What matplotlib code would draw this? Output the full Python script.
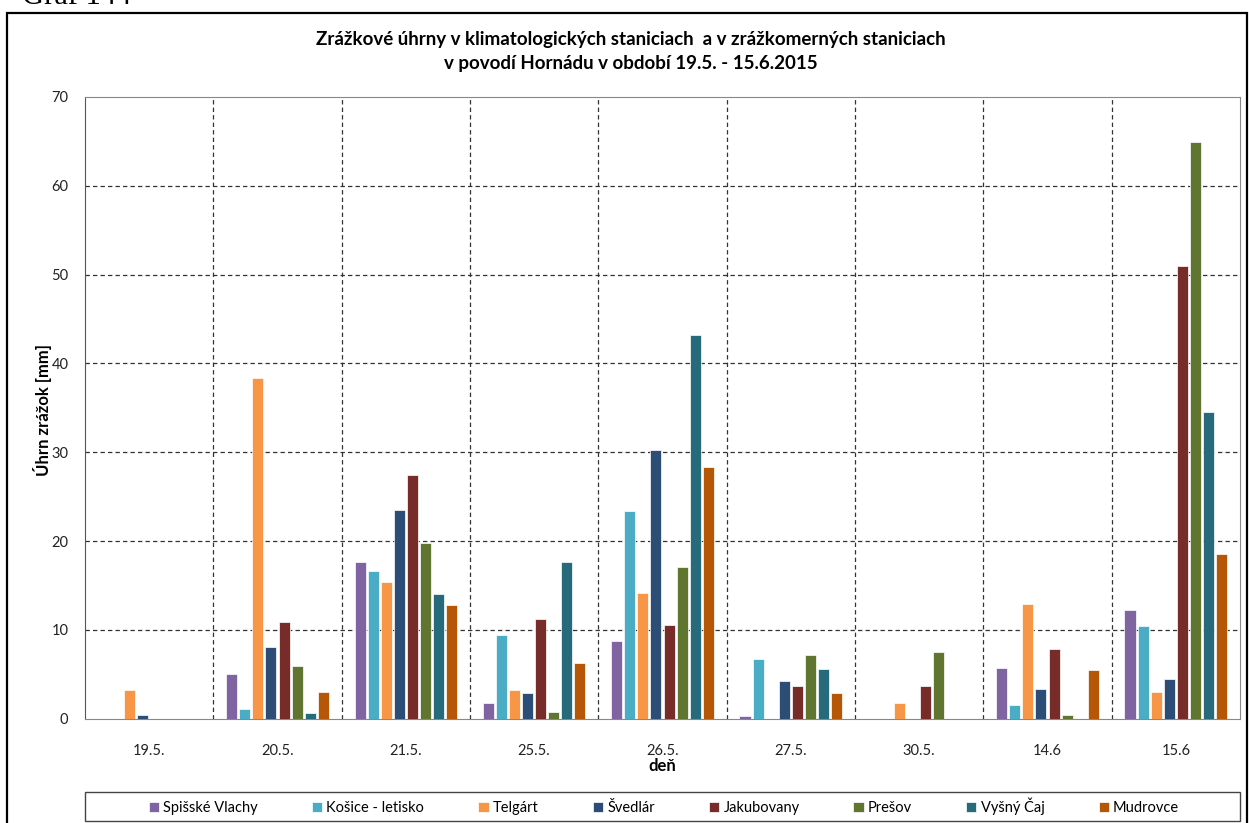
import numpy as np
import matplotlib
matplotlib.use("Agg")
import matplotlib.pyplot as plt
from matplotlib.patches import Rectangle

plt.rcParams["font.family"] = ["Lato", "DejaVu Sans"]

# ============================================================
# DATA
# ============================================================

days = ["19.5.", "20.5.", "21.5.", "25.5.", "26.5.", "27.5.", "30.5.", "14.6", "15.6"]

spisske_vlachy = [0.0, 5.0, 17.6, 1.8, 8.8, 0.3, 0.0, 5.7, 12.2]
kosice_letisko = [0.0, 1.1, 16.6, 9.4, 23.4, 6.7, 0.0, 1.5, 10.4]
telgart = [3.2, 38.4, 15.4, 3.2, 14.2, 0.0, 1.8, 12.9, 3.0]
svedlar = [0.4, 8.1, 23.5, 2.9, 30.3, 4.3, 0.0, 3.3, 4.5]
jakubovany = [0.0, 10.9, 27.5, 11.2, 10.6, 3.7, 3.7, 7.9, 51.0]
presov = [0.0, 5.9, 19.8, 0.8, 17.1, 7.2, 7.5, 0.4, 64.9]
vysny_caj = [0.0, 0.6, 14.0, 17.6, 43.2, 5.6, 0.0, 0.0, 34.5]
mudrovce = [0.0, 3.0, 12.8, 6.3, 28.4, 2.9, 0.0, 5.5, 18.6]

SERIES = [
    ("Spišské Vlachy", spisske_vlachy, "#8064A2"),
    ("Košice - letisko", kosice_letisko, "#4BACC6"),
    ("Telgárt", telgart, "#F79646"),
    ("Švedlár", svedlar, "#2C4D75"),
    ("Jakubovany", jakubovany, "#772C2A"),
    ("Prešov", presov, "#5F7530"),
    ("Vyšný Čaj", vysny_caj, "#276A7C"),
    ("Mudrovce", mudrovce, "#B65708"),
]

# ============================================================
# PLOT
# ============================================================

W, H = 1249, 823
fig = plt.figure(figsize=(W / 100, H / 100), dpi=100)

# outer chart frame + caption cut off at top (as in the source)
fig.patches.append(Rectangle((7 / W, -0.05), (1247 - 7) / W, 1.05 - 13 / H,
                             transform=fig.transFigure, fill=False,
                             edgecolor="black", linewidth=1.6))
fig.text(22 / W, 1 - 4 / H, "Graf 144", family="Liberation Serif",
         fontsize=22, va="baseline", ha="left")

ax = fig.add_axes([85 / W, 1 - 718.8 / H, (1240 - 85) / W, (718.8 - 97) / H])

x = np.arange(len(days))
step = 0.102
width = 0.086
n = len(SERIES)

for i, (name, vals, color) in enumerate(SERIES):
    offs = (i - (n - 1) / 2) * step
    ax.bar(x + offs, vals, width=width, color=color, label=name,
           edgecolor="white", linewidth=0.5, zorder=3)

ax.set_xlim(-0.5, len(days) - 0.5)
ax.set_ylim(0, 70)
ax.set_yticks(range(0, 71, 10))
ax.set_xticks(x)
ax.set_xticklabels(days)
ax.tick_params(axis="both", length=0, labelsize=10.5, colors="#222222")
ax.tick_params(axis="x", pad=18)
ax.tick_params(axis="y", pad=12)

dash = (0, (3.5, 2.5))
for yv in range(10, 70, 10):
    ax.axhline(yv, color="#333333", linestyle=dash, linewidth=0.9, zorder=1)
for xv in np.arange(0.5, len(days) - 0.5, 1.0):
    ax.axvline(xv, color="#333333", linestyle=dash, linewidth=0.9, zorder=1)

for side in ["top", "right", "bottom"]:
    ax.spines[side].set_color("#888888")
ax.spines["left"].set_color("#555555")

fig.text(0.505, 1 - 40 / H,
         "Zrážkové úhrny v klimatologických staniciach  a v zrážkomerných staniciach",
         ha="center", va="center", fontsize=13.5, fontweight="bold")
fig.text(0.505, 1 - 64 / H,
         "v povodí Hornádu v období 19.5. - 15.6.2015",
         ha="center", va="center", fontsize=13.5, fontweight="bold")

fig.text(662 / W, 1 - 766 / H, "deň", ha="center", va="center",
         fontsize=12, fontweight="bold")
fig.text(42 / W, 1 - 410 / H, "Úhrn zrážok [mm]", ha="center", va="center",
         rotation=90, fontsize=12, fontweight="bold")

# legend box spans the plot width, entries centred inside
fig.patches.append(Rectangle((85 / W, 1 - 821 / H), (1240 - 85) / W, 29 / H,
                             transform=fig.transFigure, fill=False,
                             edgecolor="#444444", linewidth=1.0))
leg = fig.legend(loc="center", ncol=8,
                 bbox_to_anchor=(664 / W, 1 - 806.5 / H),
                 bbox_transform=fig.transFigure, frameon=False,
                 fontsize=10.5, handlelength=0.7, handleheight=0.7,
                 handletextpad=0.3, borderpad=0.2, columnspacing=3.7)

fig.savefig("out.png", dpi=100)
